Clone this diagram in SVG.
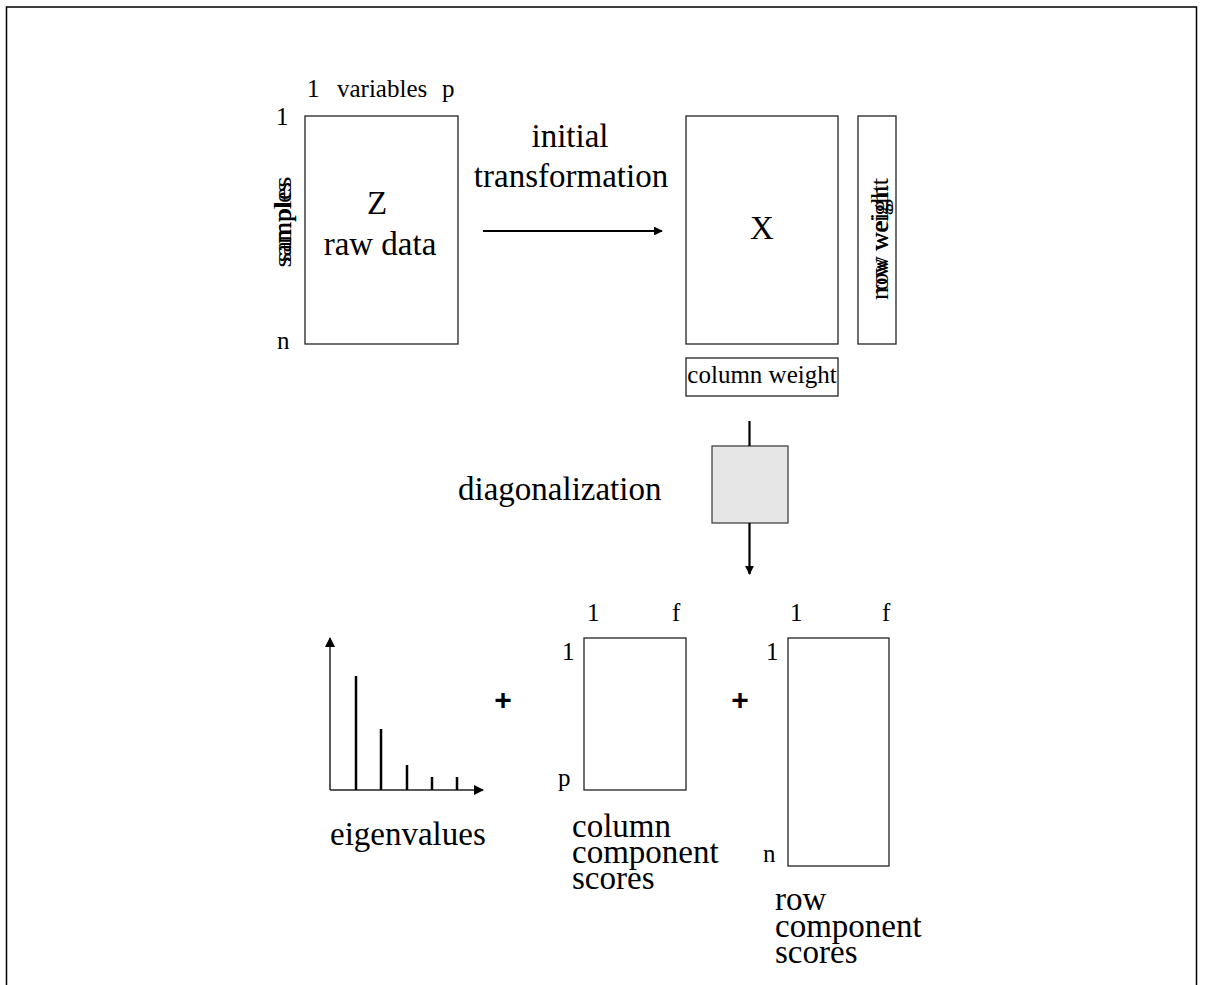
<svg xmlns="http://www.w3.org/2000/svg" width="1208" height="985" viewBox="0 0 1208 985">
  <style>
    .box { fill: #ffffff; stroke: #222222; stroke-width: 1.3; }
    .proc { fill: #e6e6e6; stroke: #444444; stroke-width: 1.3; }
    .big { font-family: "Liberation Serif", "Times New Roman", serif; font-size: 33px; fill: #000; }
    .small { font-family: "Liberation Serif", "Times New Roman", serif; font-size: 25px; fill: #000; }
    .plus { font-family: "Liberation Sans", Arial, sans-serif; font-size: 30px; font-weight: bold; fill: #000; }
    .conn { stroke: #000; stroke-width: 2.2; fill: none; }
    .axis { stroke: #222; stroke-width: 1.5; fill: none; }
    .bar { stroke: #000; stroke-width: 2.5; }
  </style>
  <defs>
    <marker id="head" viewBox="0 0 10 10" refX="9" refY="5" markerWidth="4" markerHeight="4" orient="auto" markerUnits="strokeWidth">
      <path d="M0,0 L10,5 L0,10 z" fill="#000"/>
    </marker>
    <marker id="axhead" viewBox="0 0 10 10" refX="9" refY="5" markerWidth="7" markerHeight="7" orient="auto" markerUnits="strokeWidth">
      <path d="M0,0 L10,5 L0,10 z" fill="#000"/>
    </marker>
  </defs>

  <!-- frame -->
  <rect x="6.5" y="7" width="1190" height="1000" fill="#ffffff" stroke="#000" stroke-width="1.5"/>

  <!-- raw data matrix Z -->
  <g id="node-z">
    <rect class="box" x="305" y="116" width="153" height="228"/>
    <text class="small" x="307" y="97">1</text>
    <text class="small" x="337" y="97">variables</text>
    <text class="small" x="442" y="97">p</text>
    <text class="small" x="276" y="125">1</text>
    <text class="small" x="277" y="349">n</text>
    <text class="small" transform="translate(291,222) rotate(-90)" text-anchor="middle" textLength="80" lengthAdjust="spacingAndGlyphs">samples</text>
    <text class="small" transform="translate(291,222) rotate(-90)" text-anchor="middle" textLength="91" lengthAdjust="spacingAndGlyphs">samples</text>
    <text class="big" x="377" y="214" text-anchor="middle">Z</text>
    <text class="big" x="380" y="255" text-anchor="middle">raw data</text>
  </g>

  <!-- transformation label -->
  <g id="label-transform">
    <text class="big" x="570" y="147" text-anchor="middle">initial</text>
    <text class="big" x="571" y="187" text-anchor="middle">transformation</text>
  </g>

  <!-- transformed matrix X with weights -->
  <g id="node-x">
    <rect class="box" x="686" y="116" width="152" height="228"/>
    <text class="big" x="762" y="239" text-anchor="middle">X</text>
  </g>
  <g id="node-row-weight">
    <rect class="box" x="858" y="116" width="38" height="228"/>
    <text class="small" transform="translate(888,239) rotate(-90)" text-anchor="middle" textLength="108" lengthAdjust="spacingAndGlyphs">row weight</text>
    <text class="small" transform="translate(888,239) rotate(-90)" text-anchor="middle" textLength="122" lengthAdjust="spacingAndGlyphs">row weight</text>
  </g>
  <g id="node-column-weight">
    <rect class="box" x="686" y="358" width="152" height="38"/>
    <text class="small" x="762" y="383" text-anchor="middle">column weight</text>
  </g>

  <!-- diagonalization step -->
  <g id="node-diag">
    <rect class="proc" x="712" y="446" width="76" height="77"/>
    <text class="big" x="458" y="500">diagonalization</text>
  </g>

  <!-- eigenvalue spectrum -->
  <g id="node-eigen">
    <line class="axis" x1="330" y1="790" x2="330" y2="638" marker-end="url(#axhead)"/>
    <line class="axis" x1="330" y1="790" x2="483" y2="790" marker-end="url(#axhead)"/>
    <line class="bar" x1="356" y1="790" x2="356" y2="676"/>
    <line class="bar" x1="381" y1="790" x2="381" y2="729"/>
    <line class="bar" x1="407" y1="790" x2="407" y2="765"/>
    <line class="bar" x1="432" y1="790" x2="432" y2="777"/>
    <line class="bar" x1="457" y1="790" x2="457" y2="777"/>
    <text class="big" x="330" y="845">eigenvalues</text>
  </g>

  <text class="plus" x="503" y="710" text-anchor="middle">+</text>
  <text class="plus" x="740" y="710" text-anchor="middle">+</text>

  <!-- column component scores -->
  <g id="node-col-scores">
    <rect class="box" x="584" y="638" width="102" height="152"/>
    <text class="small" x="587" y="621">1</text>
    <text class="small" x="672" y="621">f</text>
    <text class="small" x="562" y="660">1</text>
    <text class="small" x="558" y="786">p</text>
    <text class="big" x="572" y="837">column</text>
    <text class="big" x="572" y="863">component</text>
    <text class="big" x="572" y="889">scores</text>
  </g>

  <!-- row component scores -->
  <g id="node-row-scores">
    <rect class="box" x="788" y="638" width="101" height="228"/>
    <text class="small" x="790" y="621">1</text>
    <text class="small" x="882" y="621">f</text>
    <text class="small" x="766" y="660">1</text>
    <text class="small" x="763" y="862">n</text>
    <text class="big" x="775" y="910">row</text>
    <text class="big" x="775" y="937">component</text>
    <text class="big" x="775" y="963">scores</text>
  </g>

  <!-- connectors -->
  <g id="connectors">
    <line class="conn" x1="483" y1="231" x2="662" y2="231" marker-end="url(#head)"/>
    <line class="conn" x1="749.5" y1="421" x2="749.5" y2="446"/>
    <line class="conn" x1="749.5" y1="523" x2="749.5" y2="574" marker-end="url(#head)"/>
  </g>
</svg>
